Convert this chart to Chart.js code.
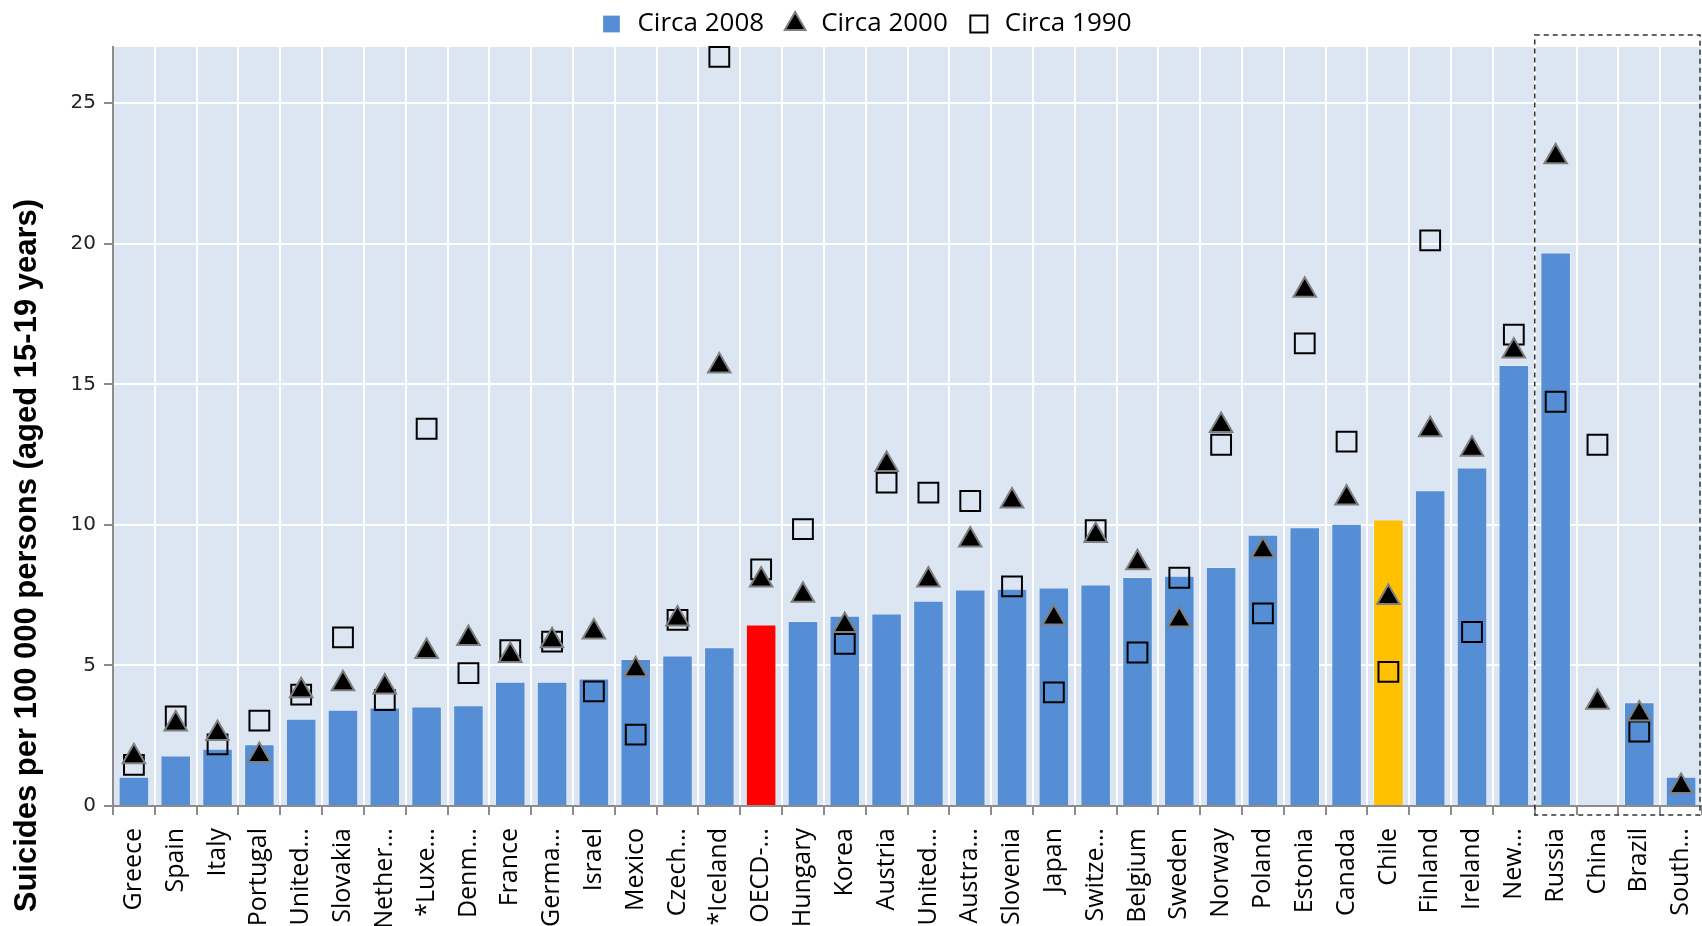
<!DOCTYPE html>
<html>
<head>
<meta charset="utf-8">
<script src="https://cdn.jsdelivr.net/npm/chart.js@4.4.1/dist/chart.umd.min.js"></script>
<style>
html, body { margin: 0; padding: 0; background: #fff; }
</style>
</head>
<body>
<canvas id="canvas" width="1702" height="926"></canvas>
<script>
// tick labels as printed under the axis (truncated in the source)
var countries = ["Greece", "Spain", "Italy", "Portugal", "United\u2026", "Slovakia", "Nether\u2026", "*Luxe\u2026",
    "Denm\u2026", "France", "Germa\u2026", "Israel", "Mexico", "Czech\u2026", "*Iceland", "OECD-\u2026",
    "Hungary", "Korea", "Austria", "United\u2026", "Austra\u2026", "Slovenia", "Japan", "Switze\u2026",
    "Belgium", "Sweden", "Norway", "Poland", "Estonia", "Canada", "Chile", "Finland", "Ireland",
    "New\u2026", "Russia", "China", "Brazil", "South\u2026"];

var circa2008 = [1.04, 1.8, 2.04, 2.2, 3.1, 3.42, 3.5, 3.54, 3.58, 4.42, 4.42, 4.54, 5.23, 5.35, 5.65, 6.46,
    6.58, 6.77, 6.85, 7.3, 7.7, 7.73, 7.77, 7.88, 8.15, 8.19, 8.5, 9.65, 9.92, 10.04, 10.19, 11.23, 12.04,
    15.69, 19.69, null, 3.69, 1.04];

var circa2000 = [1.75, 2.92, 2.58, 1.8, 4.1, 4.35, 4.23, 5.5, 5.96, 5.35, 5.88, 6.19, 4.85, 6.65, 15.65, 8.04,
    7.5, 6.42, 12.15, 8.04, 9.46, 10.85, 6.69, 9.62, 8.65, 6.62, 13.54, 9.08, 18.35, 10.96, 7.42, 13.38, 12.69,
    16.19, 23.1, 3.69, 3.27, 0.69];

var circa1990 = [1.46, 3.19, 2.19, 3.04, 3.96, 6.0, 3.77, 13.42, 4.73, 5.54, 5.85, 4.08, 2.54, 6.62, 26.65, 8.42,
    9.85, 5.77, 11.5, 11.15, 10.85, 7.81, 4.04, 9.81, 5.46, 8.12, 12.85, 6.85, 16.46, 12.96, 4.77, 20.12, 6.19,
    16.77, 14.38, 12.85, 2.65, null];

var yTitle = "Suicides per 100 000 persons (aged 15-19 years)";

var barColors = countries.map(function (c) {
    if (c == "OECD-\u2026") return "#ff0000";
    if (c == "Chile") return "#ffc000";
    return "#558ed5";
});

var plotBg = {
    id: 'plotBg',
    afterLayout: function (chart) {
        // legend sits a little right of centre in the source
        chart.legend.left += 14;
        chart.legend.right += 14;
    },
    beforeDraw: function (chart) {
        var a = chart.chartArea, ctx = chart.ctx;
        ctx.save();
        ctx.fillStyle = '#dce6f2';
        ctx.fillRect(a.left, a.top, a.right - a.left, a.bottom - a.top);
        ctx.restore();
    },
    afterDraw: function (chart) {
        var a = chart.chartArea, ctx = chart.ctx, x = chart.scales.x;
        // dashed frame round the non-OECD countries
        var left = (x.getPixelForValue(33) + x.getPixelForValue(34)) / 2;
        var right = Math.min(a.right, chart.width) - 2;
        ctx.save();
        ctx.setLineDash([5, 4]);
        ctx.strokeStyle = '#333';
        ctx.lineWidth = 1.5;
        ctx.strokeRect(left, a.top - 12, right - left, a.bottom - a.top + 21);
        ctx.restore();

        // y axis title, sits lower than the plot centre in the source
        ctx.save();
        ctx.translate(27, chart.height * 0.6);
        ctx.rotate(-Math.PI / 2);
        ctx.textAlign = 'center';
        ctx.textBaseline = 'middle';
        ctx.fillStyle = '#000';
        ctx.font = 'bold 31px "Liberation Sans Narrow", "Liberation Sans", Arial, sans-serif';
        ctx.fillText(yTitle, 0, 0);
        ctx.restore();
    }
};

var chart = new Chart(document.getElementById("canvas").getContext("2d"), {
    type: 'bar',
    data: {
        labels: countries,
        datasets: [{
            label: 'Circa 2008',
            data: circa2008,
            backgroundColor: barColors,
            borderColor: 'rgba(255,255,255,0.25)',
            borderWidth: 1,
            barPercentage: 0.73,
            categoryPercentage: 1,
            pointStyle: 'rect',
            order: 3
        }, {
            type: 'line',
            label: 'Circa 2000',
            data: circa2000,
            showLine: false,
            pointStyle: 'triangle',
            pointRadius: 13,
            pointBackgroundColor: '#000',
            pointBorderColor: '#7f7f7f',
            pointBorderWidth: 2,
            backgroundColor: '#000',
            borderColor: '#7f7f7f',
            clip: false,
            order: 1
        }, {
            type: 'line',
            label: 'Circa 1990',
            data: circa1990,
            showLine: false,
            pointStyle: 'rect',
            pointRadius: 14,
            pointBackgroundColor: 'rgba(0,0,0,0)',
            pointBorderColor: '#000',
            pointBorderWidth: 2,
            backgroundColor: '#fff',
            borderColor: '#000',
            clip: false,
            order: 2
        }]
    },
    options: {
        responsive: false,
        animation: false,
        layout: { autoPadding: false, padding: { left: 0, right: 0, top: -7, bottom: 0 } },
        plugins: {
            legend: {
                position: 'top',
                labels: {
                    usePointStyle: true,
                    boxHeight: 17,
                    padding: 18,
                    color: '#000',
                    font: { family: '"Open Sans", sans-serif', size: 26 },
                    sort: function (a, b) { return a.datasetIndex - b.datasetIndex; }
                }
            },
            tooltip: { enabled: false }
        },
        scales: {
            x: {
                afterFit: function (scale) {
                    scale.height = 120;
                    scale.paddingLeft = 0;
                    scale.paddingRight = 0;
                },
                grid: {
                    color: '#ffffff',
                    lineWidth: 2,
                    tickColor: '#8c8c8c',
                    tickLength: 9,
                    offset: true
                },
                border: { color: '#8c8c8c', width: 2 },
                ticks: {
                    autoSkip: false,
                    minRotation: 90,
                    maxRotation: 90,
                    padding: 13,
                    color: '#000',
                    font: { family: '"Open Sans", sans-serif', size: 25 }
                }
            },
            y: {
                min: 0,
                max: 27,
                afterFit: function (scale) { scale.width = 113; },
                grid: {
                    color: '#ffffff',
                    lineWidth: 2,
                    tickColor: '#8c8c8c',
                    tickLength: 9
                },
                border: { color: '#8c8c8c', width: 2 },
                ticks: {
                    stepSize: 5,
                    includeBounds: false,
                    padding: 8,
                    color: '#222',
                    font: { family: '"DejaVu Sans", sans-serif', size: 20 }
                }
            }
        }
    },
    plugins: [plotBg]
});
</script>
</body>
</html>
